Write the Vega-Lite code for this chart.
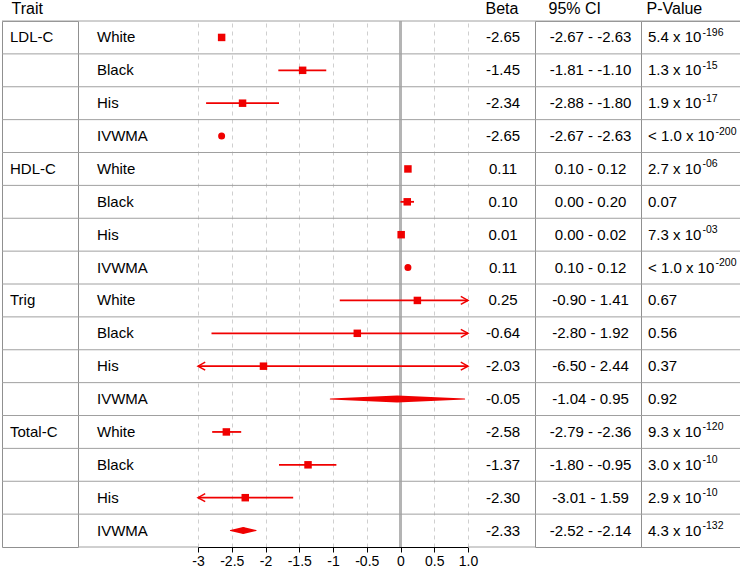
{
  "$schema": "https://vega.github.io/schema/vega-lite/v6.json",
  "padding": {"left": 1, "top": 0, "right": 0, "bottom": 0},
  "spacing": 0,
  "bounds": "flush",
  "config": {
    "font": "Liberation Sans",
    "view": {"stroke": null},
    "title": {"fontSize": 16, "fontWeight": "normal", "color": "black", "anchor": "start", "offset": 4, "font": "Liberation Sans"},
    "text": {"fontSize": 15, "font": "Liberation Sans", "color": "black"}
  },
  "data": {"values": [
    {"row": 1, "trait": "LDL-C", "group": "White", "beta": -2.65, "lo": -2.67, "hi": -2.63, "b": "-2.65", "ci": "-2.67 - -2.63", "pb": "5.4 x 10", "pe": "-196"},
    {"row": 2, "trait": "LDL-C", "group": "Black", "beta": -1.45, "lo": -1.81, "hi": -1.10, "b": "-1.45", "ci": "-1.81 - -1.10", "pb": "1.3 x 10", "pe": "-15"},
    {"row": 3, "trait": "LDL-C", "group": "His", "beta": -2.34, "lo": -2.88, "hi": -1.80, "b": "-2.34", "ci": "-2.88 - -1.80", "pb": "1.9 x 10", "pe": "-17"},
    {"row": 4, "trait": "LDL-C", "group": "IVWMA", "beta": -2.65, "lo": -2.67, "hi": -2.63, "b": "-2.65", "ci": "-2.67 - -2.63", "pb": "< 1.0 x 10", "pe": "-200"},
    {"row": 5, "trait": "HDL-C", "group": "White", "beta": 0.11, "lo": 0.10, "hi": 0.12, "b": "0.11", "ci": "0.10 - 0.12", "pb": "2.7 x 10", "pe": "-06"},
    {"row": 6, "trait": "HDL-C", "group": "Black", "beta": 0.10, "lo": 0.00, "hi": 0.20, "b": "0.10", "ci": "0.00 - 0.20", "pb": "0.07", "pe": ""},
    {"row": 7, "trait": "HDL-C", "group": "His", "beta": 0.01, "lo": 0.00, "hi": 0.02, "b": "0.01", "ci": "0.00 - 0.02", "pb": "7.3 x 10", "pe": "-03"},
    {"row": 8, "trait": "HDL-C", "group": "IVWMA", "beta": 0.11, "lo": 0.10, "hi": 0.12, "b": "0.11", "ci": "0.10 - 0.12", "pb": "< 1.0 x 10", "pe": "-200"},
    {"row": 9, "trait": "Trig", "group": "White", "beta": 0.25, "lo": -0.90, "hi": 1.41, "b": "0.25", "ci": "-0.90 - 1.41", "pb": "0.67", "pe": ""},
    {"row": 10, "trait": "Trig", "group": "Black", "beta": -0.64, "lo": -2.80, "hi": 1.92, "b": "-0.64", "ci": "-2.80 - 1.92", "pb": "0.56", "pe": ""},
    {"row": 11, "trait": "Trig", "group": "His", "beta": -2.03, "lo": -6.50, "hi": 2.44, "b": "-2.03", "ci": "-6.50 - 2.44", "pb": "0.37", "pe": ""},
    {"row": 12, "trait": "Trig", "group": "IVWMA", "beta": -0.05, "lo": -1.04, "hi": 0.95, "b": "-0.05", "ci": "-1.04 - 0.95", "pb": "0.92", "pe": ""},
    {"row": 13, "trait": "Total-C", "group": "White", "beta": -2.58, "lo": -2.79, "hi": -2.36, "b": "-2.58", "ci": "-2.79 - -2.36", "pb": "9.3 x 10", "pe": "-120"},
    {"row": 14, "trait": "Total-C", "group": "Black", "beta": -1.37, "lo": -1.80, "hi": -0.95, "b": "-1.37", "ci": "-1.80 - -0.95", "pb": "3.0 x 10", "pe": "-10"},
    {"row": 15, "trait": "Total-C", "group": "His", "beta": -2.30, "lo": -3.01, "hi": -1.59, "b": "-2.30", "ci": "-3.01 - 1.59", "pb": "2.9 x 10", "pe": "-10"},
    {"row": 16, "trait": "Total-C", "group": "IVWMA", "beta": -2.33, "lo": -2.52, "hi": -2.14, "b": "-2.33", "ci": "-2.52 - -2.14", "pb": "4.3 x 10", "pe": "-132"}
  ]},
  "hconcat": [
    {
      "width": 76, "height": 526,
      "view": {"stroke": "#909090"},
      "title": {"text": "Trait", "dx": 10},
      "layer": [
        {"mark": {"type": "rule", "color": "#a0a0a0", "strokeWidth": 1},
         "encoding": {"y": {"field": "row", "type": "ordinal", "axis": null, "bandPosition": 0, "scale": {"paddingInner": 0, "paddingOuter": 0}}}},
        {"transform": [{"filter": "datum.group == 'White'"}],
         "mark": {"type": "text", "align": "left", "baseline": "middle"},
         "encoding": {"x": {"value": 8}, "y": {"field": "row", "type": "ordinal", "axis": null, "scale": {"paddingInner": 0, "paddingOuter": 0}}, "text": {"field": "trait"}}}
      ]
    },
    {
      "width": 120, "height": 526,
      "layer": [
        {"mark": {"type": "rule", "color": "#a0a0a0", "strokeWidth": 1},
         "encoding": {"y": {"field": "row", "type": "ordinal", "axis": null, "bandPosition": 0, "scale": {"paddingInner": 0, "paddingOuter": 0}}}},
        {"transform": [{"filter": "datum.row == 16"}],
         "mark": {"type": "rule", "color": "#a0a0a0", "strokeWidth": 1},
         "encoding": {"y": {"field": "row", "type": "ordinal", "axis": null, "bandPosition": 1, "scale": {"paddingInner": 0, "paddingOuter": 0}}}},
        {"mark": {"type": "text", "align": "left", "baseline": "middle"},
         "encoding": {"x": {"value": 19}, "y": {"field": "row", "type": "ordinal", "axis": null, "scale": {"paddingInner": 0, "paddingOuter": 0}}, "text": {"field": "group"}}}
      ]
    },
    {
      "width": 270, "height": 526,
      "layer": [
        {"mark": {"type": "rule", "color": "#b4b4b4", "strokeWidth": 2},
         "encoding": {"x": {"datum": 0, "type": "quantitative", "scale": {"domain": [-3, 1]},
           "axis": {"values": [-3, -2.5, -2, -1.5, -1, -0.5, 0, 0.5, 1], "tickCount": 20, "labelExpr": "datum.value == 1 ? '1.0' : '' + datum.value", "title": null, "grid": true, "gridDash": [4, 4], "gridColor": "#cfcfcf", "gridWidth": 1, "domainColor": "black", "tickColor": "black", "tickSize": 5, "labelFontSize": 14, "labelColor": "black", "labelPadding": 2, "labelFont": "Liberation Sans", "labelFlush": false, "labelOverlap": false}}}},
        {"mark": {"type": "rule", "color": "#a0a0a0", "strokeWidth": 1},
         "encoding": {"y": {"field": "row", "type": "ordinal", "axis": null, "bandPosition": 0, "scale": {"paddingInner": 0, "paddingOuter": 0}}}},
        {"transform": [{"filter": "datum.group != 'IVWMA'"}],
         "mark": {"type": "rule", "color": "#f00000", "strokeWidth": 1.8, "clip": true},
         "encoding": {"x": {"field": "lo", "type": "quantitative",
           "axis": {"values": [-3, -2.5, -2, -1.5, -1, -0.5, 0, 0.5, 1], "tickCount": 20, "labelExpr": "datum.value == 1 ? '1.0' : '' + datum.value", "title": null, "grid": true, "gridDash": [4, 4], "gridColor": "#cfcfcf", "gridWidth": 1, "domainColor": "black", "tickColor": "black", "tickSize": 5, "labelFontSize": 14, "labelColor": "black", "labelPadding": 2, "labelFont": "Liberation Sans", "labelFlush": false, "labelOverlap": false}},
           "x2": {"field": "hi"}, "y": {"field": "row", "type": "ordinal", "axis": null, "scale": {"paddingInner": 0, "paddingOuter": 0}}}},
        {"transform": [{"filter": "datum.hi > 1"}],
         "mark": {"type": "point", "shape": "M-1.8,-1L0,0L-1.8,1", "filled": false, "color": "#f00000", "strokeWidth": 1.5, "size": 64, "opacity": 1},
         "encoding": {"x": {"datum": 1, "type": "quantitative"}, "y": {"field": "row", "type": "ordinal", "axis": null, "scale": {"paddingInner": 0, "paddingOuter": 0}}}},
        {"transform": [{"filter": "datum.lo < -3"}],
         "mark": {"type": "point", "shape": "M1.8,-1L0,0L1.8,1", "filled": false, "color": "#f00000", "strokeWidth": 1.5, "size": 64, "opacity": 1},
         "encoding": {"x": {"datum": -3, "type": "quantitative"}, "y": {"field": "row", "type": "ordinal", "axis": null, "scale": {"paddingInner": 0, "paddingOuter": 0}}}},
        {"transform": [{"filter": "datum.group != 'IVWMA'"}],
         "mark": {"type": "point", "shape": "square", "filled": true, "color": "#f00000", "size": 56, "opacity": 1},
         "encoding": {"x": {"field": "beta", "type": "quantitative"}, "y": {"field": "row", "type": "ordinal", "axis": null, "scale": {"paddingInner": 0, "paddingOuter": 0}}}},
        {"transform": [{"filter": "datum.group == 'IVWMA'"}, {"fold": ["lo", "beta", "hi"], "as": ["pos", "val"]}],
         "mark": {"type": "trail", "color": "#f00000", "opacity": 1},
         "encoding": {"x": {"field": "val", "type": "quantitative"}, "y": {"field": "row", "type": "ordinal", "axis": null, "scale": {"paddingInner": 0, "paddingOuter": 0}},
           "detail": {"field": "row", "type": "nominal"},
           "order": {"field": "val", "type": "quantitative"},
           "size": {"condition": {"test": "datum.pos == 'beta'", "value": 7}, "value": 0}}}
      ]
    },
    {
      "width": 67, "height": 526,
      "title": {"text": "Beta", "dx": 18},
      "layer": [
        {"mark": {"type": "rule", "color": "#a0a0a0", "strokeWidth": 1},
         "encoding": {"y": {"field": "row", "type": "ordinal", "axis": null, "bandPosition": 0, "scale": {"paddingInner": 0, "paddingOuter": 0}}}},
        {"transform": [{"filter": "datum.row == 16"}],
         "mark": {"type": "rule", "color": "#a0a0a0", "strokeWidth": 1},
         "encoding": {"y": {"field": "row", "type": "ordinal", "axis": null, "bandPosition": 1, "scale": {"paddingInner": 0, "paddingOuter": 0}}}},
        {"mark": {"type": "text", "align": "center", "baseline": "middle"},
         "encoding": {"x": {"value": 35}, "y": {"field": "row", "type": "ordinal", "axis": null, "scale": {"paddingInner": 0, "paddingOuter": 0}}, "text": {"field": "b"}}}
      ]
    },
    {
      "width": 106, "height": 526,
      "view": {"stroke": "#909090"},
      "title": {"text": "95% CI", "dx": 14},
      "layer": [
        {"mark": {"type": "rule", "color": "#a0a0a0", "strokeWidth": 1},
         "encoding": {"y": {"field": "row", "type": "ordinal", "axis": null, "bandPosition": 0, "scale": {"paddingInner": 0, "paddingOuter": 0}}}},
        {"mark": {"type": "text", "align": "center", "baseline": "middle"},
         "encoding": {"x": {"value": 55.5}, "y": {"field": "row", "type": "ordinal", "axis": null, "scale": {"paddingInner": 0, "paddingOuter": 0}}, "text": {"field": "ci"}}}
      ]
    },
    {
      "width": 99, "height": 526,
      "view": {"stroke": "#909090"},
      "title": {"text": "P-Value", "dx": 6},
      "layer": [
        {"mark": {"type": "rule", "color": "#a0a0a0", "strokeWidth": 1},
         "encoding": {"y": {"field": "row", "type": "ordinal", "axis": null, "bandPosition": 0, "scale": {"paddingInner": 0, "paddingOuter": 0}}}},
        {"mark": {"type": "text", "align": "left", "baseline": "middle"},
         "encoding": {"x": {"value": 7}, "y": {"field": "row", "type": "ordinal", "axis": null, "scale": {"paddingInner": 0, "paddingOuter": 0}}, "text": {"field": "pb"}}},
        {"transform": [{"filter": "datum.pe != '' && indexof(datum.pb, '<') != 0"}],
         "mark": {"type": "text", "align": "left", "baseline": "middle", "fontSize": 10.5, "dy": -4.5},
         "encoding": {"x": {"value": 61.5}, "y": {"field": "row", "type": "ordinal", "axis": null, "scale": {"paddingInner": 0, "paddingOuter": 0}}, "text": {"field": "pe"}}},
        {"transform": [{"filter": "indexof(datum.pb, '<') == 0"}],
         "mark": {"type": "text", "align": "left", "baseline": "middle", "fontSize": 10.5, "dy": -4.5},
         "encoding": {"x": {"value": 74.5}, "y": {"field": "row", "type": "ordinal", "axis": null, "scale": {"paddingInner": 0, "paddingOuter": 0}}, "text": {"field": "pe"}}}
      ]
    }
  ]
}
